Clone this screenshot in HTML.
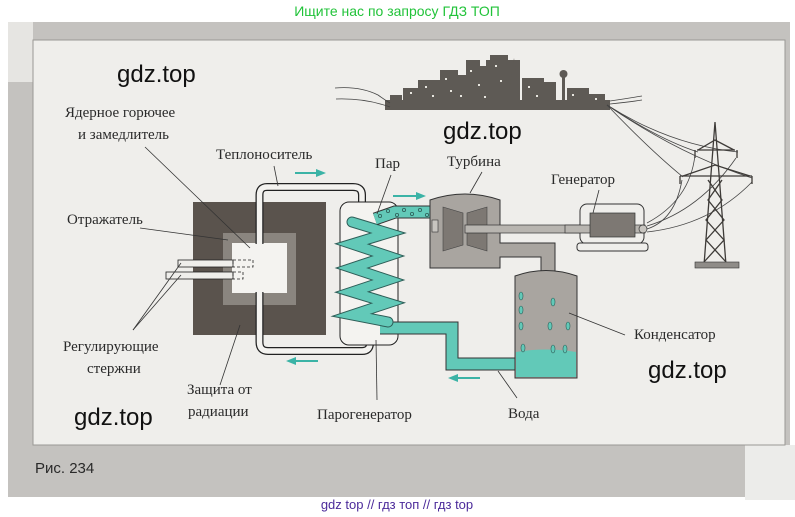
<!DOCTYPE html>
<html><head><meta charset="utf-8"><style>
html,body{margin:0;padding:0;background:#fff;}
svg{display:block;}
.s{font-family:"Liberation Serif",serif;font-size:15px;fill:#2a2a2a;}
</style></head><body>
<svg width="795" height="517" viewBox="0 0 795 517" xmlns="http://www.w3.org/2000/svg">
<rect width="795" height="517" fill="#fff"/>
<rect x="8" y="22" width="782" height="475" fill="#c4c2bf"/>
<rect x="745" y="445" width="50" height="55" fill="#ececea"/>
<rect x="8" y="22" width="25" height="60" fill="#e6e5e2"/>
<rect x="33" y="40" width="752" height="405" fill="#efeeeb" stroke="#9a9894" stroke-width="1"/>
<text x="397" y="16" text-anchor="middle" font-family="Liberation Sans,sans-serif" font-size="14" fill="#22c33a">Ищите нас по запросу ГДЗ ТОП</text>

<!-- city -->
<g fill="#5e5a55">
<rect x="385" y="100" width="225" height="10"/>
<rect x="390" y="95" width="12" height="8"/><rect x="403" y="88" width="15" height="15"/>
<rect x="418" y="80" width="22" height="25"/><rect x="440" y="70" width="18" height="35"/>
<rect x="458" y="75" width="10" height="30"/><rect x="466" y="60" width="14" height="45"/>
<rect x="472" y="66" width="18" height="40"/><rect x="490" y="55" width="18" height="50"/>
<rect x="486" y="60" width="34" height="45"/><polygon points="507,105 514,58 520,105"/>
<rect x="522" y="78" width="22" height="27"/><rect x="544" y="82" width="12" height="23"/>
<rect x="562" y="75" width="3" height="30"/><circle cx="563.5" cy="74" r="4"/>
<rect x="567" y="88" width="22" height="17"/><rect x="589" y="94" width="16" height="11"/>
</g>
<g fill="#e8e6e0">
<rect x="410" y="92" width="2" height="2"/><rect x="425" y="86" width="2" height="2"/><rect x="432" y="95" width="2" height="2"/>
<rect x="445" y="78" width="2" height="2"/><rect x="450" y="90" width="2" height="2"/><rect x="470" y="70" width="2" height="2"/>
<rect x="478" y="84" width="2" height="2"/><rect x="495" y="65" width="2" height="2"/><rect x="500" y="80" width="2" height="2"/>
<rect x="528" y="86" width="2" height="2"/><rect x="536" y="95" width="2" height="2"/><rect x="572" y="94" width="2" height="2"/>
<rect x="595" y="98" width="2" height="2"/><rect x="484" y="96" width="2" height="2"/><rect x="460" y="95" width="2" height="2"/>
</g>
<g fill="none" stroke="#444" stroke-width="0.8">
<path d="M335 88 Q360 86 378 95 Q385 100 390 103"/><path d="M336 99 Q365 98 390 107"/>
<path d="M610 101 Q630 98 642 96"/><path d="M610 104 Q630 102 642 100"/>
<path d="M607 105 Q660 140 698 152"/><path d="M607 105 Q670 145 738 152"/>
<path d="M607 105 Q650 150 683 177"/><path d="M607 105 Q680 155 752 178"/>
<path d="M647 223 Q690 200 695 155"/><path d="M647 226 Q700 210 736 158"/>
<path d="M647 229 Q675 220 682 180"/><path d="M647 232 Q710 225 752 182"/>
</g>
<!-- tower -->
<g fill="none" stroke="#3e3b38" stroke-width="1.3">
<path d="M715 122 L704 265 M715 122 L726 265"/>
<path d="M697 150 L735 150 M695 150 L695 158 M737 150 L737 158"/>
<path d="M680 176 L752 176 M680 176 L680 184 M752 176 L752 184"/>
<path d="M708 180 L722 200 L706 220 L724 240 L704 262 M722 180 L708 200 L724 220 L706 240 L726 262"/>
<path d="M698 150 L715 140 L734 150 M683 176 L715 165 L750 176"/>
</g>
<rect x="695" y="262" width="44" height="6" fill="#8f8c88" stroke="#333" stroke-width="0.6"/>

<!-- reactor -->
<rect x="193" y="202" width="133" height="133" fill="#5a534d"/>
<rect x="223" y="233" width="73" height="72" fill="#8a857f"/>
<rect x="232" y="243" width="55" height="50" fill="#f4f3f0"/>
<!-- control rods -->
<rect x="178" y="260" width="55" height="7" fill="#efeeeb" stroke="#222" stroke-width="0.8"/>
<rect x="166" y="272" width="67" height="7" fill="#efeeeb" stroke="#222" stroke-width="0.8"/>
<rect x="233" y="260" width="20" height="7" fill="none" stroke="#222" stroke-width="0.8" stroke-dasharray="3,2"/>
<rect x="233" y="272" width="10" height="7" fill="none" stroke="#222" stroke-width="0.8" stroke-dasharray="3,2"/>
<!-- coolant loop -->
<path d="M259.5 244 L259.5 195 Q259.5 187 267 187 L353 187 Q362 187 362 195 L362 204" fill="none" stroke="#222" stroke-width="8"/>
<path d="M259.5 244 L259.5 195 Q259.5 187 267 187 L353 187 Q362 187 362 195 L362 204" fill="none" stroke="#f4f3f0" stroke-width="5.5"/>
<path d="M259.5 292 L259.5 342 Q259.5 351 268 351 L362 351 Q370 351 370 343" fill="none" stroke="#222" stroke-width="8"/>
<path d="M259.5 292 L259.5 342 Q259.5 351 268 351 L362 351 Q370 351 370 343" fill="none" stroke="#f4f3f0" stroke-width="5.5"/>
<!-- steam generator -->
<rect x="340" y="202" width="58" height="143" rx="9" fill="#f4f3f0" stroke="#222" stroke-width="1"/>
<!-- water pipe -->
<path d="M380 328 L452 328 L452 364 L520 364" fill="none" stroke="#333" stroke-width="13"/>
<path d="M380 328 L452 328 L452 364 L520 364" fill="none" stroke="#62c9b8" stroke-width="11"/>
<!-- coil -->
<g fill="none" stroke-linecap="round">
<path d="M352 222 L388 233 L352 244 L388 256 L352 268 L388 280 L352 292 L388 303 L352 315 L388 322" stroke="#2e5e58" stroke-width="11"/>
<path d="M352 222 L388 233 L352 244 L388 256 L352 268 L388 280 L352 292 L388 303 L352 315 L388 322" stroke="#62c9b8" stroke-width="9"/>
</g>
<!-- steam pipe -->
<path d="M375 219 L395 212 L432 212" fill="none" stroke="#333" stroke-width="13"/>
<path d="M375 219 L395 212 L432 212" fill="none" stroke="#62c9b8" stroke-width="11"/>
<g fill="none" stroke="#2e5e58" stroke-width="0.8"><circle cx="380" cy="216" r="1.6"/><circle cx="388" cy="211" r="1.6"/><circle cx="397" cy="215" r="1.6"/><circle cx="404" cy="210" r="1.6"/><circle cx="412" cy="214" r="1.6"/><circle cx="420" cy="210" r="1.6"/><circle cx="427" cy="215" r="1.6"/></g>
<!-- turbine -->
<path d="M430 268 L430 200 Q465 188 500 200 L500 268 Z" fill="#a9a5a0" stroke="#333" stroke-width="1"/>
<polygon points="443,207 463,213 463,245 443,251" fill="#7d7873" stroke="#444" stroke-width="0.6"/>
<polygon points="487,207 467,213 467,245 487,251" fill="#7d7873" stroke="#444" stroke-width="0.6"/>
<rect x="432" y="220" width="6" height="12" fill="#c8c5c0" stroke="#333" stroke-width="0.6"/>
<!-- shaft -->
<rect x="465" y="225" width="125" height="8" fill="#b8b5b0" stroke="#333" stroke-width="0.7"/>
<!-- exhaust pipe -->
<path d="M500 250 L548 250 L548 275" fill="none" stroke="#333" stroke-width="15"/>
<path d="M498 250 L548 250 L548 276" fill="none" stroke="#a9a5a0" stroke-width="13"/>
<!-- generator -->
<rect x="580" y="204" width="64" height="40" rx="7" fill="#efeeeb" stroke="#333" stroke-width="1"/>
<rect x="577" y="243" width="71" height="8" rx="3" fill="#efeeeb" stroke="#333" stroke-width="1"/>
<rect x="565" y="225" width="80" height="8" fill="#b8b5b0" stroke="#333" stroke-width="0.7"/>
<rect x="590" y="213" width="45" height="24" fill="#7d7873" stroke="#333" stroke-width="0.7"/>
<circle cx="643" cy="229" r="4" fill="#c8c5c0" stroke="#333" stroke-width="0.7"/>
<!-- condenser -->
<path d="M515 378 L515 276 Q546 265 577 276 L577 378 Z" fill="#a9a5a0" stroke="#333" stroke-width="1"/>
<path d="M516 352 Q546 347 576 352 L576 377 L516 377 Z" fill="#62c9b8"/>
<g fill="#62c9b8" stroke="#2e5e58" stroke-width="0.6">
<ellipse cx="521" cy="296" rx="2" ry="4"/><ellipse cx="521" cy="310" rx="2" ry="4"/><ellipse cx="521" cy="326" rx="2" ry="4"/>
<ellipse cx="553" cy="302" rx="2" ry="4"/><ellipse cx="550" cy="326" rx="2" ry="4"/><ellipse cx="568" cy="326" rx="2" ry="4"/>
<ellipse cx="523" cy="348" rx="2" ry="4"/><ellipse cx="553" cy="349" rx="2" ry="4"/><ellipse cx="565" cy="349" rx="2" ry="4"/>
</g>
<!-- arrows -->
<g stroke="#3bb3a6" stroke-width="2" fill="#3bb3a6">
<line x1="295" y1="173" x2="318" y2="173"/><polygon points="316,169 326,173 316,177" stroke="none"/>
<line x1="393" y1="196" x2="418" y2="196"/><polygon points="416,192 426,196 416,200" stroke="none"/>
<line x1="294" y1="361" x2="318" y2="361"/><polygon points="296,357 286,361 296,365" stroke="none"/>
<line x1="456" y1="378" x2="480" y2="378"/><polygon points="458,374 448,378 458,382" stroke="none"/>
</g>
<!-- leader lines -->
<g stroke="#333" stroke-width="0.8" fill="none">
<line x1="145" y1="147" x2="250" y2="248"/>
<line x1="140" y1="228" x2="228" y2="240"/>
<line x1="133" y1="330" x2="181" y2="263"/><line x1="133" y1="330" x2="181" y2="275"/>
<line x1="220" y1="385" x2="240" y2="325"/>
<line x1="274" y1="166" x2="278" y2="186"/>
<line x1="391" y1="175" x2="377" y2="214"/>
<line x1="482" y1="172" x2="470" y2="193"/>
<line x1="599" y1="190" x2="593" y2="213"/>
<line x1="625" y1="335" x2="569" y2="313"/>
<line x1="377" y1="400" x2="376" y2="340"/>
<line x1="517" y1="398" x2="498" y2="371"/>
</g>
<!-- labels -->
<text class="s" x="65" y="117">Ядерное горючее</text>
<text class="s" x="78" y="139">и  замедлитель</text>
<text class="s" x="216" y="159">Теплоноситель</text>
<text class="s" x="375" y="168">Пар</text>
<text class="s" x="447" y="166">Турбина</text>
<text class="s" x="551" y="184">Генератор</text>
<text class="s" x="67" y="224">Отражатель</text>
<text class="s" x="63" y="351">Регулирующие</text>
<text class="s" x="87" y="373">стержни</text>
<text class="s" x="187" y="394">Защита от</text>
<text class="s" x="188" y="416">радиации</text>
<text class="s" x="317" y="419">Парогенератор</text>
<text class="s" x="508" y="418">Вода</text>
<text class="s" x="634" y="339">Конденсатор</text>
<text x="35" y="473" font-family="Liberation Sans,sans-serif" font-size="15" fill="#2a2a2a">Рис. 234</text>
<g font-family="Liberation Sans,sans-serif" font-size="24" fill="#111">
<text x="117" y="82">gdz.top</text>
<text x="443" y="139">gdz.top</text>
<text x="648" y="378">gdz.top</text>
<text x="74" y="425">gdz.top</text>
</g>
<text x="397" y="509" text-anchor="middle" font-family="Liberation Sans,sans-serif" font-size="13" fill="#4b2a9a">gdz top  //  гдз топ  //  гдз top</text>
</svg>
</body></html>
